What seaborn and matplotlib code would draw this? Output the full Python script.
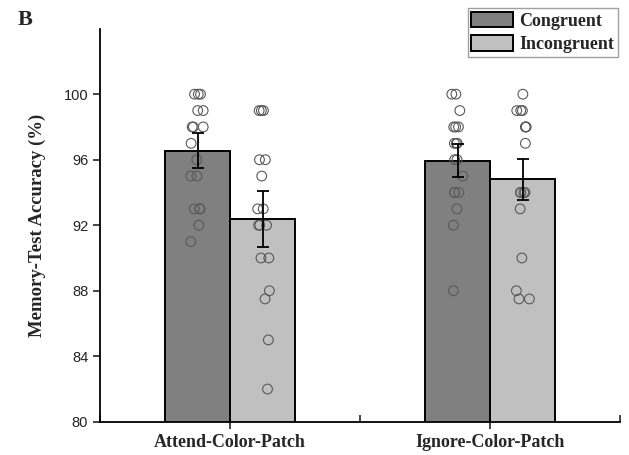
import matplotlib

matplotlib.use("Agg")
import matplotlib.pyplot as plt  # noqa: E402
import numpy as np  # noqa: E402
import pandas as pd  # noqa: E402
import seaborn as sns  # noqa: E402

tasks = ["Attend-Color-Patch", "Ignore-Color-Patch"]
conditions = ["Congruent", "Incongruent"]
bar_colors = ["#808080", "#c0c0c0"]

# bar heights and SEMs
mean_congruent = [96.55, 95.95]
mean_incongruent = [92.4, 94.8]
sem_congruent = [1.07, 1.0]
sem_incongruent = [1.7, 1.27]

# individual subjects
attend_congruent = [100, 100, 100, 99, 99, 98, 98, 98, 97, 96, 95, 95, 93, 93, 93, 92, 91]
attend_incongruent = [99, 99, 99, 96, 96, 95, 93, 93, 92, 92, 92, 90, 90, 88, 87.5, 85, 82]
ignore_congruent = [100, 100, 99, 98, 98, 98, 97, 97, 97, 96, 96, 95, 94, 94, 94, 93, 92, 88]
ignore_incongruent = [100, 99, 99, 99, 98, 98, 98, 97, 94, 94, 94, 94, 93, 90, 88, 87.5, 87.5]

y_ticks = [80, 84, 88, 92, 96, 100]

bars = pd.DataFrame({
    "task": tasks * 2,
    "cond": [conditions[0]] * 2 + [conditions[1]] * 2,
    "mean": mean_congruent + mean_incongruent,
    "sem": sem_congruent + sem_incongruent,
})
subjects = {
    (tasks[0], conditions[0]): attend_congruent,
    (tasks[0], conditions[1]): attend_incongruent,
    (tasks[1], conditions[0]): ignore_congruent,
    (tasks[1], conditions[1]): ignore_incongruent,
}

sns.set_style("ticks")
plt.rcParams["font.family"] = ["Liberation Sans", "DejaVu Sans"]
serif_bold = dict(family=["Liberation Serif", "DejaVu Serif"], weight="bold")

fig = plt.figure(figsize=(6.29, 4.55), dpi=100)
ax = fig.add_axes([0.159, 0.073, 0.827, 0.864])

sns.barplot(data=bars, x="task", y="mean", hue="cond", order=tasks, hue_order=conditions,
            palette=bar_colors, saturation=1, width=0.5, edgecolor="black", linewidth=1.4,
            errorbar=None, ax=ax)
handles = ax.get_legend().legend_handles
ax.get_legend().remove()

# bar centres, taken from the drawn bars (one container per hue level)
centres = {}
for cond, container in zip(conditions, ax.containers):
    for task, patch in zip(tasks, container.patches):
        centres[(task, cond)] = patch.get_x() + patch.get_width() / 2
bars["pos"] = [centres[(t, c)] for t, c in zip(bars["task"], bars["cond"])]

ax.errorbar(bars["pos"], bars["mean"], yerr=bars["sem"], fmt="none", ecolor="black",
            elinewidth=1.3, capsize=4, capthick=1.3, zorder=4)

pts = pd.DataFrame(
    [(centres[key], v) for key, vals in subjects.items() for v in vals],
    columns=["pos", "acc"],
)
np.random.seed(3)
n_before = len(ax.collections)
sns.stripplot(data=pts, x="pos", y="acc", native_scale=True, orient="x", jitter=0.11,
              size=7, color="0.35", facecolor="none", edgecolor="0.35", linewidth=0.8,
              legend=False, ax=ax)
for coll in ax.collections[n_before:]:
    coll.set_facecolor("none")

ax.set_xlim(-0.5, 1.5)
ax.set_ylim(80, 104)
ax.set_xticks(range(len(tasks)))
ax.set_xticklabels(tasks, fontsize=13, **serif_bold)
ax.set_xticks([-0.5, 0.5, 1.5], minor=True)
ax.set_yticks(y_ticks)
ax.set_yticklabels([str(t) for t in y_ticks], fontsize=10.5, color="#222222")
ax.tick_params(axis="x", which="major", direction="out", length=5, width=1.2, pad=4)
ax.tick_params(axis="x", which="minor", direction="in", length=5, width=1.2)
ax.tick_params(axis="y", direction="out", length=5, width=1.2)
ax.set_xlabel("")
ax.set_ylabel("Memory-Test Accuracy (%)", fontsize=13.5, labelpad=13, **serif_bold)
sns.despine(ax=ax)
for side in ("left", "bottom"):
    ax.spines[side].set_linewidth(1.3)
    ax.spines[side].set_color("black")

ax.legend(handles, conditions, loc="upper right", bbox_to_anchor=(0.982, 0.982),
          bbox_transform=fig.transFigure, frameon=True, fancybox=False,
          edgecolor="#888888", prop=dict(size=13, **serif_bold),
          handlelength=2.3, handleheight=0.95, handletextpad=0.35,
          labelspacing=0.3, borderpad=0.2, borderaxespad=0)
for h in ax.get_legend().legend_handles:
    h.set_edgecolor("black")
    h.set_linewidth(1.4)

fig.text(0.028, 0.978, "B", fontsize=16, va="top", ha="left", **serif_bold)

fig.savefig("out.png", dpi=100)
